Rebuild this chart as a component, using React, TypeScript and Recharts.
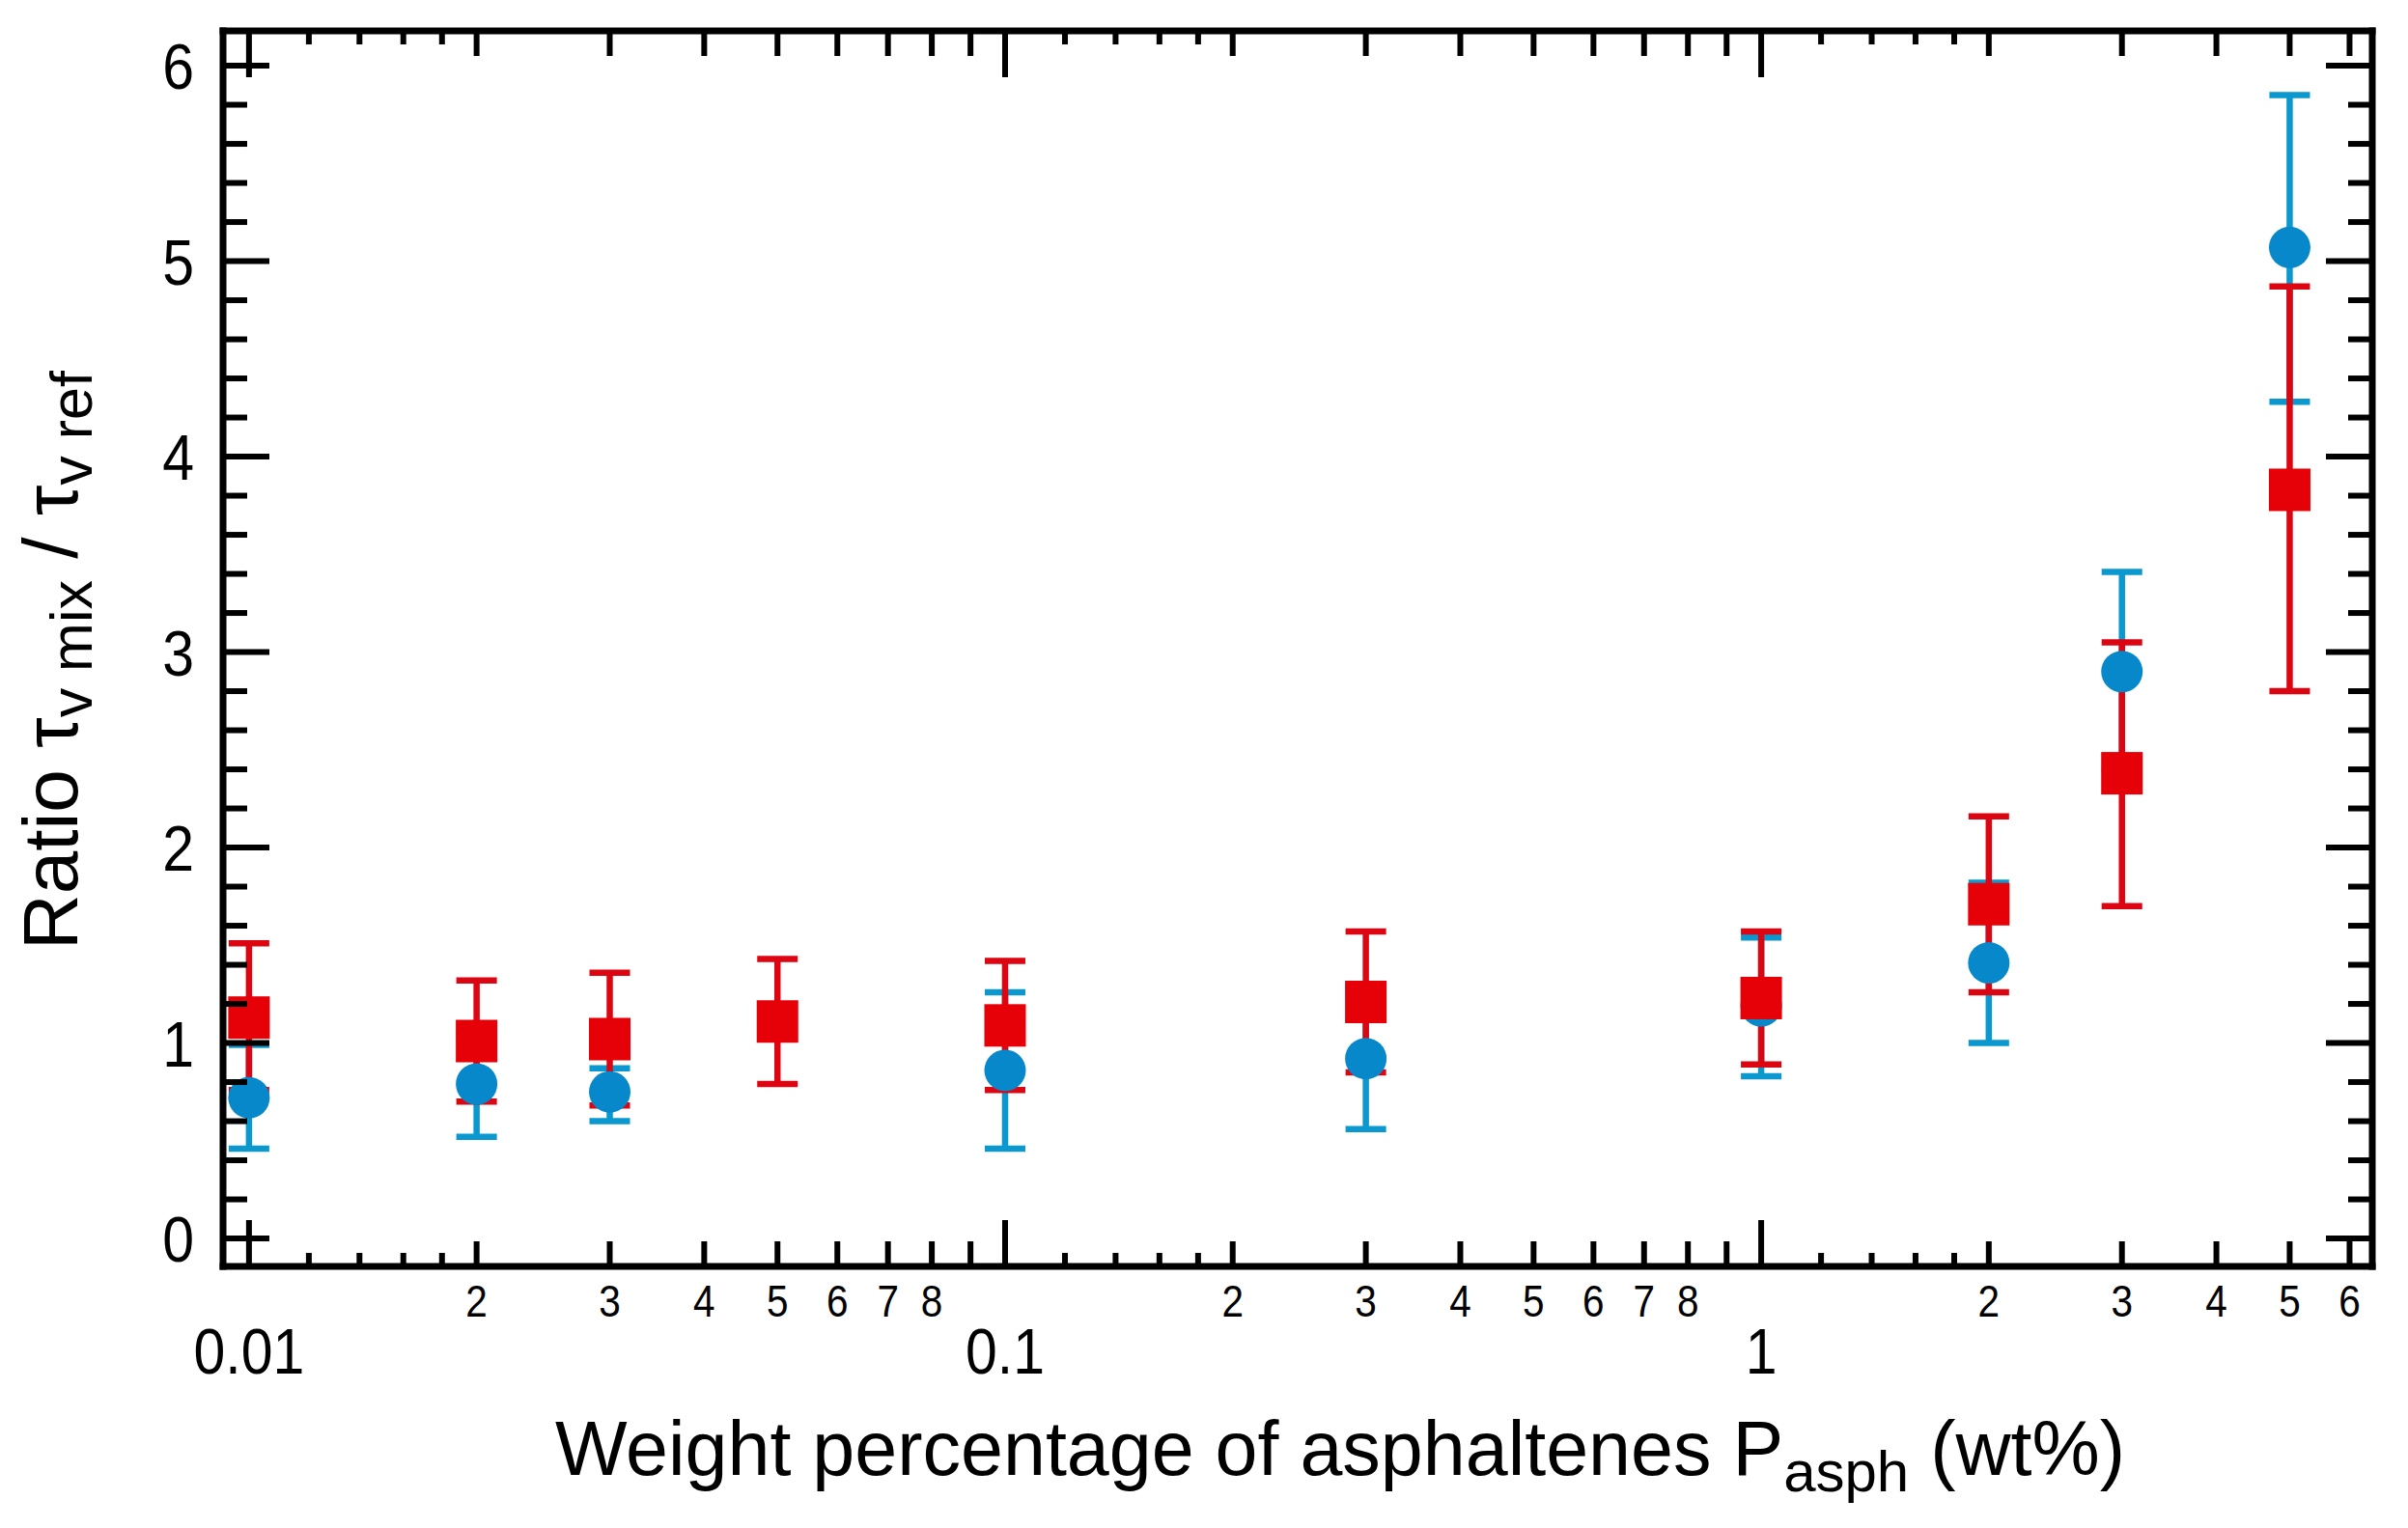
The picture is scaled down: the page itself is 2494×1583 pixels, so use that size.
import React from "react";
import { ScatterChart, Scatter, XAxis, YAxis, ErrorBar } from "recharts";

// weight percentage of asphaltenes (wt%)
const circleX = [0.01, 0.02, 0.03, 0.1, 0.3, 1, 2, 3, 5];
const circleY = [0.72, 0.79, 0.75, 0.86, 0.92, 1.19, 1.41, 2.9, 5.07];
const circleLow = [0.46, 0.52, 0.6, 0.46, 0.56, 0.83, 1.0, 2.4, 4.28];
const circleHigh = [0.99, 1.05, 0.87, 1.26, 1.28, 1.54, 1.82, 3.41, 5.85];

const squareX = [0.01, 0.02, 0.03, 0.05, 0.1, 0.3, 1, 2, 3, 5];
const squareY = [1.13, 1.01, 1.02, 1.11, 1.09, 1.21, 1.23, 1.71, 2.38, 3.83];
const squareLow = [0.76, 0.7, 0.68, 0.79, 0.76, 0.85, 0.89, 1.26, 1.7, 2.8];
const squareHigh = [1.51, 1.32, 1.36, 1.43, 1.42, 1.57, 1.57, 2.16, 3.05, 4.87];

const xMajorTicks = [0.01, 0.1, 1];
const xMajorLabels = ["0.01", "0.1", "1"];
const xMidTicks = [
  0.02, 0.03, 0.04, 0.05, 0.06, 0.07, 0.08, 0.09,
  0.2, 0.3, 0.4, 0.5, 0.6, 0.7, 0.8, 0.9,
  2, 3, 4, 5, 6,
];
const xMidLabels = [
  "2", "3", "4", "5", "6", "7", "8", "",
  "2", "3", "4", "5", "6", "7", "8", "",
  "2", "3", "4", "5", "6",
];
const xTinyTicks = [0.012, 0.014, 0.016, 0.018, 0.12, 0.14, 0.16, 0.18, 1.2, 1.4, 1.6, 1.8];

const yMajorTicks = [0, 1, 2, 3, 4, 5, 6];
const yMinorTicks = [
  0.2, 0.4, 0.6, 0.8, 1.2, 1.4, 1.6, 1.8, 2.2, 2.4, 2.6, 2.8,
  3.2, 3.4, 3.6, 3.8, 4.2, 4.4, 4.6, 4.8, 5.2, 5.4, 5.6, 5.8,
];

const X_DOMAIN = [0.00924, 6.43];
const Y_DOMAIN = [-0.143, 6.178];

const W = 2494;
const H = 1583;
const LEFT = 231;
const RIGHT = 2457;
const TOP = 32;
const BOTTOM = 1312;

const FONT = "'Liberation Sans', Arial, sans-serif";
const BLUE = "#0788cb";
const BLUE_BAR = "#0a98cf";
const RED = "#e60008";
const RED_BAR = "#dc0512";

const circleData = circleX.map((x, i) => ({
  x,
  y: circleY[i],
  err: [circleY[i] - circleLow[i], circleHigh[i] - circleY[i]],
}));
const squareData = squareX.map((x, i) => ({
  x,
  y: squareY[i],
  err: [squareY[i] - squareLow[i], squareHigh[i] - squareY[i]],
}));

const allXTicks = [...xMajorTicks, ...xMidTicks, ...xTinyTicks];
const allYTicks = [...yMajorTicks, ...yMinorTicks];

function xTickLen(v: number) {
  if (xMajorTicks.includes(v)) return 48;
  if (xMidTicks.includes(v)) return 26;
  return 14;
}

function yTickLen(v: number) {
  return yMajorTicks.includes(v) ? 48 : 25;
}

// narrow tick font, like the original figure
function Num({ x, y, size, anchor, children }: any) {
  return (
    <text
      transform={`translate(${x},${y}) scale(0.88,1)`}
      textAnchor={anchor}
      fontSize={size}
      fontFamily={FONT}
      fill="#000"
    >
      {children}
    </text>
  );
}

function BottomTick(props: any) {
  const { x, payload } = props;
  const v = payload.value;
  const len = xTickLen(v);
  const mi = xMajorTicks.indexOf(v);
  const di = xMidTicks.indexOf(v);
  return (
    <g>
      <line x1={x} x2={x} y1={BOTTOM} y2={BOTTOM - len} stroke="#000" strokeWidth={6} />
      <line x1={x} x2={x} y1={TOP} y2={TOP + len} stroke="#000" strokeWidth={6} />
      {mi >= 0 && (
        <Num x={x} y={1423} size={67} anchor="middle">
          {xMajorLabels[mi]}
        </Num>
      )}
      {di >= 0 && xMidLabels[di] !== "" && (
        <Num x={x} y={1364} size={46} anchor="middle">
          {xMidLabels[di]}
        </Num>
      )}
    </g>
  );
}

function LeftTick(props: any) {
  const { y, payload } = props;
  const v = payload.value;
  const len = yTickLen(v);
  const major = yMajorTicks.includes(v);
  return (
    <g>
      <line x1={LEFT} x2={LEFT + len} y1={y} y2={y} stroke="#000" strokeWidth={6} />
      <line x1={RIGHT} x2={RIGHT - len} y1={y} y2={y} stroke="#000" strokeWidth={6} />
      {major && (
        <Num x={201} y={y + 24} size={67} anchor="end">
          {v}
        </Num>
      )}
    </g>
  );
}

const xTitle = () => (
  <g>
    <line x1={LEFT} x2={RIGHT} y1={TOP} y2={TOP} stroke="#000" strokeWidth={7} strokeLinecap="square" />
    <line x1={RIGHT} x2={RIGHT} y1={TOP} y2={BOTTOM} stroke="#000" strokeWidth={7} strokeLinecap="square" />
    <text x={1388} y={1528} textAnchor="middle" fontSize={79} fontFamily={FONT} fill="#000">
      Weight percentage of asphaltenes P
      <tspan fontSize={60} dy={17}>asph</tspan>
      <tspan dy={-17}> (wt%)</tspan>
    </text>
  </g>
);

const yTitle = () => (
  <text
    x={0}
    y={0}
    transform={`translate(80, 684) rotate(-90)`}
    textAnchor="middle"
    fontSize={80}
    fontFamily={FONT}
    fill="#000"
  >
    Ratio τ
    <tspan fontSize={61} dy={15}>v mix</tspan>
    <tspan dy={-15}> / τ</tspan>
    <tspan fontSize={61} dy={15}>v ref</tspan>
  </text>
);

const circleShape = (p: any) => <circle cx={p.cx} cy={p.cy} r={21.5} fill={BLUE} />;
const squareShape = (p: any) => (
  <rect x={p.cx - 21.5} y={p.cy - 22} width={43} height={44} fill={RED} />
);

const frame = { stroke: "#000", strokeWidth: 7, strokeLinecap: "square" as const };

export default function App() {
  return (
    <div style={{ position: "absolute", left: 0, top: 0, width: W, height: H, background: "#fff" }}>
      <ScatterChart width={W} height={H} margin={{ top: TOP, right: W - RIGHT, bottom: 0, left: 0 }}>
        <XAxis
          dataKey="x"
          type="number"
          scale="log"
          domain={X_DOMAIN}
          allowDataOverflow
          ticks={allXTicks}
          interval={0}
          height={H - BOTTOM}
          tickLine={false}
          axisLine={frame}
          tick={BottomTick}
          label={xTitle}
        />
        <YAxis
          dataKey="y"
          type="number"
          domain={Y_DOMAIN}
          allowDataOverflow
          ticks={allYTicks}
          interval={0}
          width={LEFT}
          tickLine={false}
          axisLine={frame}
          tick={LeftTick}
          label={yTitle}
        />
        <Scatter data={circleData} shape={circleShape} isAnimationActive={false}>
          <ErrorBar
            dataKey="err"
            direction="y"
            width={21}
            stroke={BLUE_BAR}
            strokeWidth={6.5}
            isAnimationActive={false}
          />
        </Scatter>
        <Scatter data={squareData} shape={squareShape} isAnimationActive={false}>
          <ErrorBar
            dataKey="err"
            direction="y"
            width={21}
            stroke={RED_BAR}
            strokeWidth={6.5}
            isAnimationActive={false}
          />
        </Scatter>
      </ScatterChart>
    </div>
  );
}
